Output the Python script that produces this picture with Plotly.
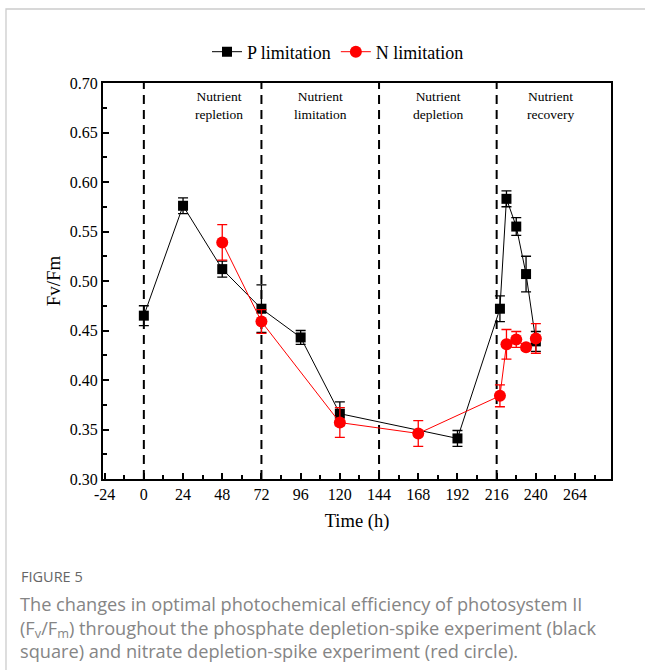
import plotly.graph_objects as go

# Sampling times (h) and Fv/Fm means with standard deviations
p_time = [0, 24, 48, 72, 96, 120, 192, 218, 222, 228, 234, 240]
p_fvfm = [0.465, 0.576, 0.512, 0.472, 0.443, 0.366, 0.341, 0.472, 0.583, 0.555, 0.507, 0.439]
p_err = [0.010, 0.008, 0.008, 0.024, 0.007, 0.012, 0.008, 0.013, 0.008, 0.009, 0.018, 0.010]

n_time = [48, 72, 120, 168, 218, 222, 228, 234, 240]
n_fvfm = [0.539, 0.459, 0.357, 0.346, 0.384, 0.436, 0.441, 0.433, 0.442]
n_err = [0.018, 0.012, 0.015, 0.013, 0.011, 0.015, 0.008, 0.003, 0.015]

phase_bounds = [0, 72, 144, 216]
phase_labels = ["Nutrient<br>repletion", "Nutrient<br>limitation",
                "Nutrient<br>depletion", "Nutrient<br>recovery"]
phase_label_x = [46, 108, 180, 249]

x_ticks = list(range(-24, 265, 24))

SERIF = "Liberation Serif, Times New Roman, serif"
SANS = "Open Sans, Noto Sans, sans-serif"

W, H = 645, 670
L, R, T, B = 103, 34, 83, 191
pw, ph = W - L - R, H - T - B


def px_to_paper_x(px):
    return (px - L) / pw


def px_to_paper_y(py):
    return (H - B - py) / ph


fig = go.Figure()

fig.add_trace(go.Scatter(
    x=p_time, y=p_fvfm, name="P limitation", mode="lines+markers",
    line=dict(color="black", width=1),
    marker=dict(symbol="square", size=10, color="black"),
    error_y=dict(type="data", array=p_err, visible=True, color="black",
                 thickness=1.3, width=5),
))
fig.add_trace(go.Scatter(
    x=n_time, y=n_fvfm, name="N limitation", mode="lines+markers",
    line=dict(color="#ff0000", width=1),
    marker=dict(symbol="circle", size=12, color="#ff0000"),
    error_y=dict(type="data", array=n_err, visible=True, color="#ff0000",
                 thickness=1.3, width=5),
))

shapes = []
for xb in phase_bounds:
    shapes.append(dict(type="line", xref="x", yref="paper", x0=xb, x1=xb,
                       y0=0, y1=1, line=dict(color="black", width=2, dash="9px,6px"),
                       layer="below"))

# light outer frame of the figure panel
shapes.append(dict(type="rect", xref="paper", yref="paper",
                   x0=px_to_paper_x(6), x1=px_to_paper_x(W + 20),
                   y0=px_to_paper_y(H + 20), y1=px_to_paper_y(9),
                   line=dict(color="#cccccc", width=1.3), layer="below"))

annotations = []
for lab, xl in zip(phase_labels, phase_label_x):
    annotations.append(dict(x=xl, y=0.6775, xref="x", yref="y", text=lab,
                            showarrow=False, font=dict(family=SERIF, size=13.5, color="black"),
                            xanchor="center", yanchor="middle"))

annotations.append(dict(x=px_to_paper_x(19), y=px_to_paper_y(576), xref="paper", yref="paper",
                        text="FIGURE 5", showarrow=False, xanchor="left", yanchor="middle",
                        font=dict(family=SANS, size=14.5, color="#666666")))
caption = ("The changes in optimal photochemical efficiency of photosystem II<br>"
           "(F<sub>v</sub>/F<sub>m</sub>) throughout the phosphate depletion-spike experiment (black<br>"
           "square) and nitrate depletion-spike experiment (red circle).")
annotations.append(dict(x=px_to_paper_x(18), y=px_to_paper_y(590), xref="paper", yref="paper",
                        text=caption, showarrow=False, xanchor="left", yanchor="top",
                        align="left",
                        font=dict(family=SANS, size=18.2, color="#858585")))

axis_common = dict(
    showline=True, linecolor="black", linewidth=2, mirror=True,
    ticks="inside", ticklen=6, tickwidth=1.5, tickcolor="black",
    showgrid=False, zeroline=False,
    tickfont=dict(family=SERIF, size=16, color="black"),
)

fig.update_layout(
    width=W, height=H,
    margin=dict(l=L, r=R, t=T, b=B),
    paper_bgcolor="white", plot_bgcolor="white",
    showlegend=True,
    legend=dict(orientation="h", x=px_to_paper_x(338), y=px_to_paper_y(52),
                xanchor="center", yanchor="middle",
                font=dict(family=SERIF, size=18, color="black"),
                bgcolor="rgba(0,0,0,0)", itemwidth=30, tracegroupgap=0),
    xaxis=dict(range=[-25, 286], tickvals=x_ticks,
               ticktext=[str(v) for v in x_ticks],
               minor=dict(dtick=12, tick0=0, ticks="inside", ticklen=4, tickcolor="black"),
               title=dict(text="Time (h)", font=dict(family=SERIF, size=18.5, color="black"),
                          standoff=12),
               **axis_common),
    yaxis=dict(range=[0.30, 0.70], dtick=0.05, tick0=0.30, tickformat=".2f",
               minor=dict(dtick=0.025, ticks="inside", ticklen=4, tickcolor="black"),
               title=dict(text="Fv/Fm", font=dict(family=SERIF, size=19, color="black"),
                          standoff=4),
               **axis_common),
    shapes=shapes,
    annotations=annotations,
)

fig.write_html("out.html")
